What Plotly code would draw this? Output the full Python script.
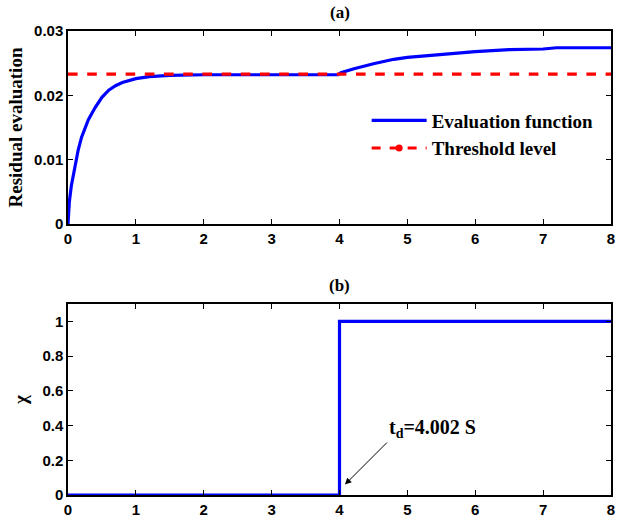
import plotly.graph_objects as go
from plotly.subplots import make_subplots

# ---- data ----
t_eval = [0, 0.02, 0.05, 0.1, 0.15, 0.2, 0.3, 0.4, 0.5, 0.6, 0.7, 0.8, 0.9, 1.0, 1.2,
          1.5, 2.0, 3.0, 3.98, 4.02, 4.2, 4.5, 4.8, 5.0, 5.5, 6.0, 6.5, 7.0, 7.2, 8.0]
r_eval = [0, 0.0035, 0.006, 0.009, 0.0115, 0.0135, 0.0162, 0.0181, 0.0197, 0.0208, 0.0215,
          0.022, 0.0223, 0.0226, 0.0229, 0.0231, 0.0232, 0.0232, 0.0232, 0.0235, 0.0241,
          0.0249, 0.0256, 0.0259, 0.0264, 0.0268, 0.0271, 0.0272, 0.0274, 0.0274]
t_thr = [0, 8]
r_thr = [0.0233, 0.0233]
t_chi = [0, 4.0, 4.0, 8]
chi = [0, 0, 1, 1]
x_ticks = [0, 1, 2, 3, 4, 5, 6, 7, 8]
y1_ticks = [0, 0.01, 0.02, 0.03]
y2_ticks = [0, 0.2, 0.4, 0.6, 0.8, 1]
td_label = "t<sub>d</sub>=4.002 S"
td_x, td_y = 4.0, 0.0

fig = make_subplots(rows=2, cols=1)

blue = "#0000FF"
red = "#FF0000"

fig.add_trace(go.Scatter(x=t_eval, y=r_eval, mode="lines", name="Evaluation function",
                         line=dict(color=blue, width=3.2), showlegend=True), row=1, col=1)
fig.add_trace(go.Scatter(x=t_thr, y=r_thr, mode="lines", name="Threshold level",
                         line=dict(color=red, width=3.2, dash="dash"), showlegend=False), row=1, col=1)
fig.add_trace(go.Scatter(x=[None], y=[None], mode="lines+markers", name="Threshold level",
                         line=dict(color=red, width=3, dash="dash"),
                         marker=dict(color=red, size=7), showlegend=True), row=1, col=1)
fig.add_trace(go.Scatter(x=t_chi, y=chi, mode="lines", line=dict(color=blue, width=3.2),
                         showlegend=False), row=2, col=1)

axis_common = dict(showgrid=False, zeroline=False, showline=True, linecolor="black",
                   linewidth=1.5, mirror="ticks", ticks="inside", ticklen=5,
                   tickcolor="black", tickwidth=1,
                   tickfont=dict(family="Liberation Sans", size=15, color="black", weight="bold"))

fig.update_xaxes(range=[0, 8], tickvals=x_ticks, **axis_common)
fig.update_xaxes(domain=[0, 1])
fig.update_yaxes(axis_common)
fig.update_yaxes(range=[0, 0.03], tickvals=y1_ticks, ticktext=["0", "0.01", "0.02", "0.03"],
                 domain=[0.584, 1.0], row=1, col=1,
                 title=dict(text="Residual evaluation", standoff=6,
                            font=dict(family="Liberation Serif", size=19, color="black", weight="bold")))
fig.update_yaxes(range=[0, 1.1], tickvals=y2_ticks, ticktext=["0", "0.2", "0.4", "0.6", "0.8", "1"],
                 domain=[0.0, 0.4115], row=2, col=1,
                 title=dict(text="χ", standoff=10,
                            font=dict(family="Liberation Serif", size=19, color="black", weight="bold")))

title_font = dict(family="Liberation Serif", size=17, color="black", weight="bold")
fig.add_annotation(text="(a)", xref="paper", yref="paper", x=0.5, y=1.0, yshift=19,
                   yanchor="middle", showarrow=False, font=title_font)
fig.add_annotation(text="(b)", xref="paper", yref="paper", x=0.5, y=0.4115, yshift=19,
                   yanchor="middle", showarrow=False, font=title_font)

fig.add_annotation(text=td_label, x=td_x + 0.08, y=td_y + 0.06, xref="x2", yref="y2",
                   showarrow=True, arrowhead=2, arrowsize=1.3, arrowwidth=1, arrowcolor="black",
                   ax=42, ay=-42, xanchor="left", yanchor="bottom",
                   font=dict(family="Liberation Serif", size=20, color="black", weight="bold"))

fig.update_layout(
    width=620, height=523,
    margin=dict(l=68, r=5, t=31, b=23),
    plot_bgcolor="white", paper_bgcolor="white",
    legend=dict(x=0.55, y=0.848, xref="paper", yref="paper", xanchor="left", yanchor="top",
                bgcolor="rgba(0,0,0,0)", borderwidth=0, itemwidth=55,
                font=dict(family="Liberation Serif", size=19, color="black", weight="bold"),
                tracegroupgap=0),
    showlegend=True,
)

fig.write_html("out.html")
